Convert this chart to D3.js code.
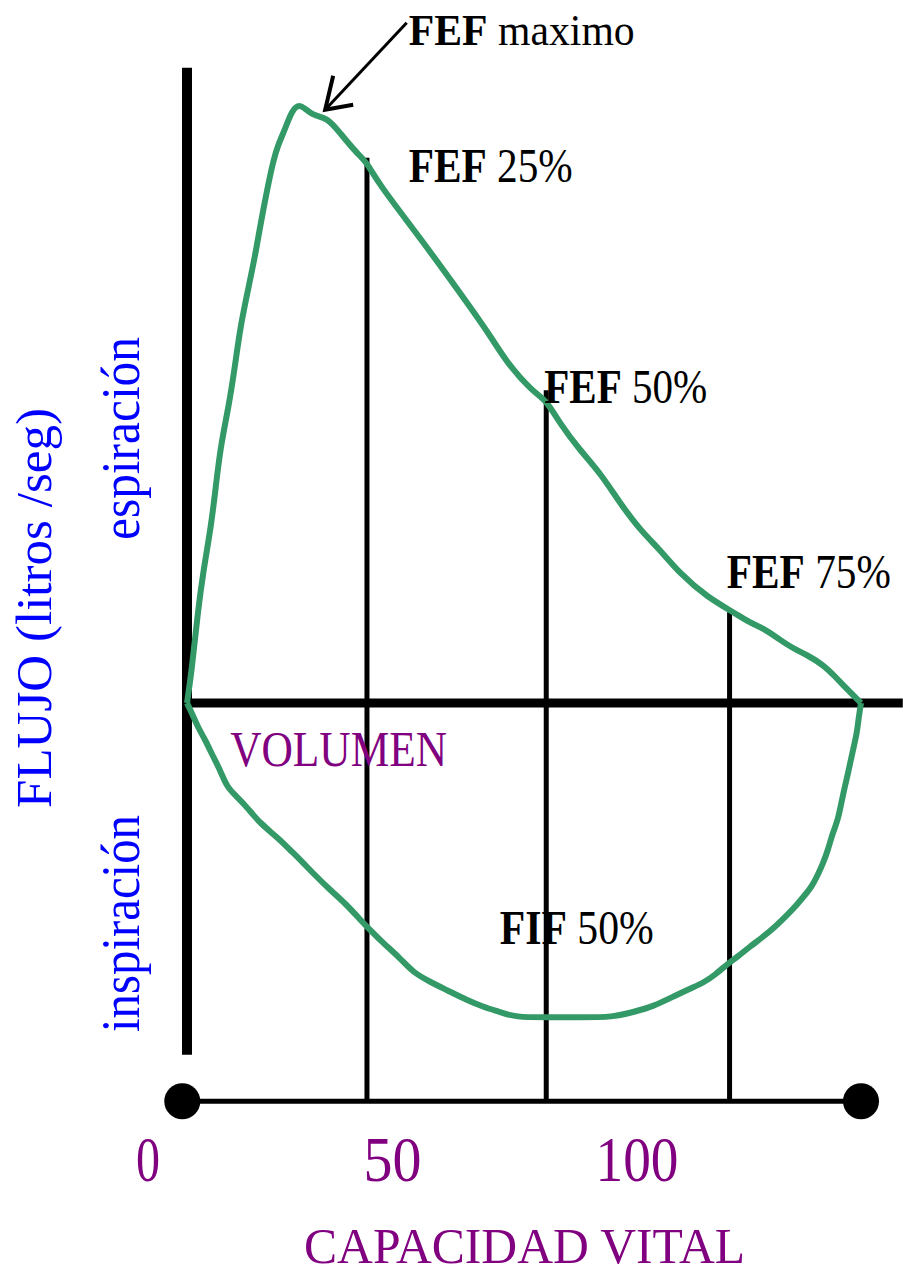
<!DOCTYPE html>
<html><head><meta charset="utf-8">
<script src="https://cdn.jsdelivr.net/npm/d3@7"></script>
<style>body{margin:0;background:#fff}svg{display:block}</style>
</head><body><svg id="chart"></svg>
<script>
// ---- data ----
const expVolume=[0,0.7,1.6,2.4,3.6,4.3,5.0,6.2,7.1,7.9,9.1,10.1,10.8,11.9,12.8,13.5,14.5,15.6,16.8,18.5,20.8,22.7,25.2,26.7,28.2,34.6,40.5,45.0,47.5,51.3,53.3,55.3,58.3,61.3,64.2,67.2,70.2,73.1,77.2,81.1,83.5,85.5,88.0,89.9,92.0,94.4,96.4,98.1,100];
const expFlow=[0,0.43,1.21,1.75,2.37,2.91,3.43,3.96,4.48,5.01,5.53,5.96,6.33,6.85,7.23,7.44,7.64,7.91,8.0,7.83,7.81,7.60,7.33,7.21,6.95,6.2,5.47,4.9,4.53,4.15,4.04,3.73,3.37,3.07,2.67,2.31,2.04,1.73,1.41,1.21,1.07,1.0,0.84,0.73,0.64,0.51,0.33,0.17,0];
const inspVolume=[100,99.6,99.4,98.7,98.1,97.3,96.6,95.8,95.1,94.4,93.6,92.7,91.4,90.2,89.0,87.2,85.3,83.5,81.6,80.3,78.3,76.6,75.1,72.7,69.1,66.2,63.2,58.3,53.4,48.7,46.4,43.9,41.5,38.6,36.1,33.5,31.6,29.1,27.2,25.7,23.7,21.2,18.7,16.8,15.3,13.4,10.8,8.9,7.4,5.9,4.9,3.9,2.7,1.6,0.7,0];
const inspFlow=[0,-0.23,-0.40,-0.67,-0.93,-1.23,-1.56,-1.73,-1.96,-2.13,-2.29,-2.45,-2.59,-2.72,-2.83,-2.99,-3.13,-3.25,-3.39,-3.47,-3.63,-3.73,-3.79,-3.89,-4.05,-4.12,-4.19,-4.19,-4.19,-4.19,-4.12,-4.05,-3.96,-3.83,-3.72,-3.59,-3.40,-3.20,-3.03,-2.89,-2.69,-2.49,-2.27,-2.09,-1.96,-1.79,-1.60,-1.39,-1.25,-1.12,-0.89,-0.72,-0.49,-0.32,-0.13,0];

const markerVolume=[26.7,53.3,80.5];
const markerFlow=[7.27,4.17,1.21];

const tickValues=[0,50,100];
const tickLabels=["0","50","100"];

const labelNames=["FEF","FEF","FEF","FEF","FIF"];
const labelValues=["maximo","25%","50%","75%","50%"];
const labelVolume=[32.9,32.9,53.0,80.1,46.4];
const labelFlow=[8.77,6.95,4.0,1.53,-3.21];

const peakVolume=20.5, peakFlow=7.91;
const xTitle="CAPACIDAD VITAL";
const volLabel="VOLUMEN";
const yTitle="FLUJO (litros /seg)";
const expLabel="espiración";
const inspLabel="inspiración";

// ---- layout ----
const W=903,H=1269;
const GREEN="#339966",PURPLE="#800080",BLUE="#0000ff";
const FONT="'Liberation Serif','Times New Roman',serif";

const svg=d3.select("#chart").attr("width",W).attr("height",H);
svg.append("rect").attr("width",W).attr("height",H).attr("fill","#fff");

const x=d3.scaleLinear().domain([0,100]).range([187,861]);
const y=d3.scaleLinear().domain([0,8]).range([703,103]);
const tickScale=d3.scaleLinear().domain([0,100]).range([148,637]);

const baseFlow=-5.31;

// vertical flow axis
svg.append("line").attr("x1",x(0)).attr("x2",x(0))
  .attr("y1",y(8.47)).attr("y2",y(-4.69))
  .attr("stroke","#000").attr("stroke-width",10);
// horizontal zero-flow axis
svg.append("line").attr("x1",x(0)).attr("x2",x(106.2))
  .attr("y1",y(0)).attr("y2",y(0))
  .attr("stroke","#000").attr("stroke-width",9);

// marker vertical lines
svg.selectAll("line.marker").data(markerVolume).join("line")
  .attr("class","marker")
  .attr("x1",d=>x(d)).attr("x2",d=>x(d))
  .attr("y1",(d,i)=>y(markerFlow[i])).attr("y2",y(baseFlow))
  .attr("stroke","#000").attr("stroke-width",5);

// base line (vital capacity)
svg.append("line").attr("x1",x(-0.7)).attr("x2",x(100))
  .attr("y1",y(baseFlow)).attr("y2",y(baseFlow))
  .attr("stroke","#000").attr("stroke-width",5);
svg.selectAll("circle.end").data([-0.7,100]).join("circle")
  .attr("class","end").attr("cx",d=>x(d)).attr("cy",y(baseFlow))
  .attr("r",18).attr("fill","#000");

// loop
const line=d3.line().x(d=>x(d[0])).y(d=>y(d[1])).curve(d3.curveBasis);
const expPts=expVolume.map((v,i)=>[v,expFlow[i]]);
const inspPts=inspVolume.map((v,i)=>[v,inspFlow[i]]);
svg.append("path").attr("d",line(expPts)).attr("fill","none")
  .attr("stroke",GREEN).attr("stroke-width",6).attr("stroke-linejoin","round");
svg.append("path").attr("d",line(inspPts)).attr("fill","none")
  .attr("stroke",GREEN).attr("stroke-width",6).attr("stroke-linejoin","round");

// arrow to FEF max
const tx=x(peakVolume), ty=y(peakFlow);
svg.append("line").attr("x1",x(32.6)).attr("x2",tx).attr("y1",y(9.07)).attr("y2",ty)
  .attr("stroke","#000").attr("stroke-width",3);
svg.append("path").attr("d",`M${tx+8},${ty-34} L${tx},${ty} L${tx+28},${ty-5}`)
  .attr("fill","none").attr("stroke","#000").attr("stroke-width",4);

// annotations
const widths=[226,164,163,164,154];
const sizes=[45,49,49,49,49];
labelNames.forEach((n,i)=>{
  const t=svg.append("text").attr("x",x(labelVolume[i])).attr("y",y(labelFlow[i]))
    .attr("font-family",FONT).attr("font-size",sizes[i]).attr("fill","#000")
    .attr("textLength",widths[i]).attr("lengthAdjust","spacingAndGlyphs");
  t.append("tspan").attr("font-weight","bold").text(n);
  t.append("tspan").text(" "+labelValues[i]);
});

// VOLUMEN
svg.append("text").attr("x",x(6.4)).attr("y",y(-0.84))
  .attr("font-family",FONT).attr("font-size",50).attr("fill",PURPLE)
  .attr("textLength",217).attr("lengthAdjust","spacingAndGlyphs").text(volLabel);

// tick labels
const tw=[24,58,83];
svg.selectAll("text.tick").data(tickValues).join("text")
  .attr("class","tick").attr("x",d=>tickScale(d)).attr("y",1181)
  .attr("text-anchor","middle").attr("font-family",FONT).attr("font-size",64)
  .attr("fill",PURPLE).attr("textLength",(d,i)=>tw[i]).attr("lengthAdjust","spacingAndGlyphs")
  .text((d,i)=>tickLabels[i]);

// x title
svg.append("text").attr("x",524.5).attr("y",1263).attr("text-anchor","middle")
  .attr("font-family",FONT).attr("font-size",50).attr("fill",PURPLE)
  .attr("textLength",441).attr("lengthAdjust","spacingAndGlyphs").text(xTitle);

// y titles (rotated)
function vtext(str,bx,startY,len,size){
  svg.append("text").attr("transform",`translate(${bx},${startY}) rotate(-90)`)
    .attr("x",0).attr("y",0).attr("font-family",FONT).attr("font-size",size)
    .attr("fill",BLUE).attr("textLength",len).attr("lengthAdjust","spacingAndGlyphs").text(str);
}
vtext(yTitle,51,808,400,51);
vtext(expLabel,139,540,203,54);
vtext(inspLabel,139,1032,217,54);
</script></body></html>
